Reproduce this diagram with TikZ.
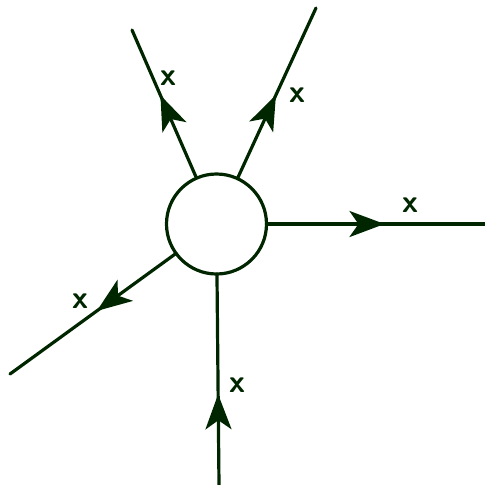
\documentclass[tikz,border=0pt]{standalone}
\usetikzlibrary{arrows.meta,decorations.markings}
\tikzset{
  ln/.style={line width=3.2pt, line cap=round, draw=black!85!green},
  arr/.style={postaction={decorate, decoration={markings,
     mark=at position #1 with {\arrow{Stealth[length=35pt, width=26pt, inset=9pt]}}}}},
  lbl/.style={font=\fontsize{32}{32}\selectfont\sffamily\bfseries, text=black!85!green, inner sep=0pt},
  ring/.style={circle, draw=black!85!green, line width=3.2pt, minimum size=100pt, inner sep=0pt, outer sep=0pt}
}
\begin{document}
\begin{tikzpicture}[x=1pt, y=-1pt]
\useasboundingbox (0,0) rectangle (485,485);
\node[ring] (c) at (216.5,224) {};
\coordinate (e1) at (132,30);
\coordinate (e2) at (316,8);
\coordinate (e3) at (485,224);
\coordinate (e4) at (10,374);
\coordinate (e5) at (219,485);
\draw[ln, arr=0.56] (c) -- (e1);
\draw[ln, arr=0.49] (c) -- (e2);
\draw[ln, arr=0.54] (c) -- (e3);
\draw[ln, arr=0.477] (c) -- (e4);
\draw[ln, arr=0.43] (e5) -- (c);
\node[lbl] (x1) at (168,78) {x};
\node[lbl] (x2) at (297,95) {x};
\node[lbl] (x3) at (410,205) {x};
\node[lbl] (x4) at (80,301) {x};
\node[lbl] (x5) at (237,385) {x};
\end{tikzpicture}
\end{document}
